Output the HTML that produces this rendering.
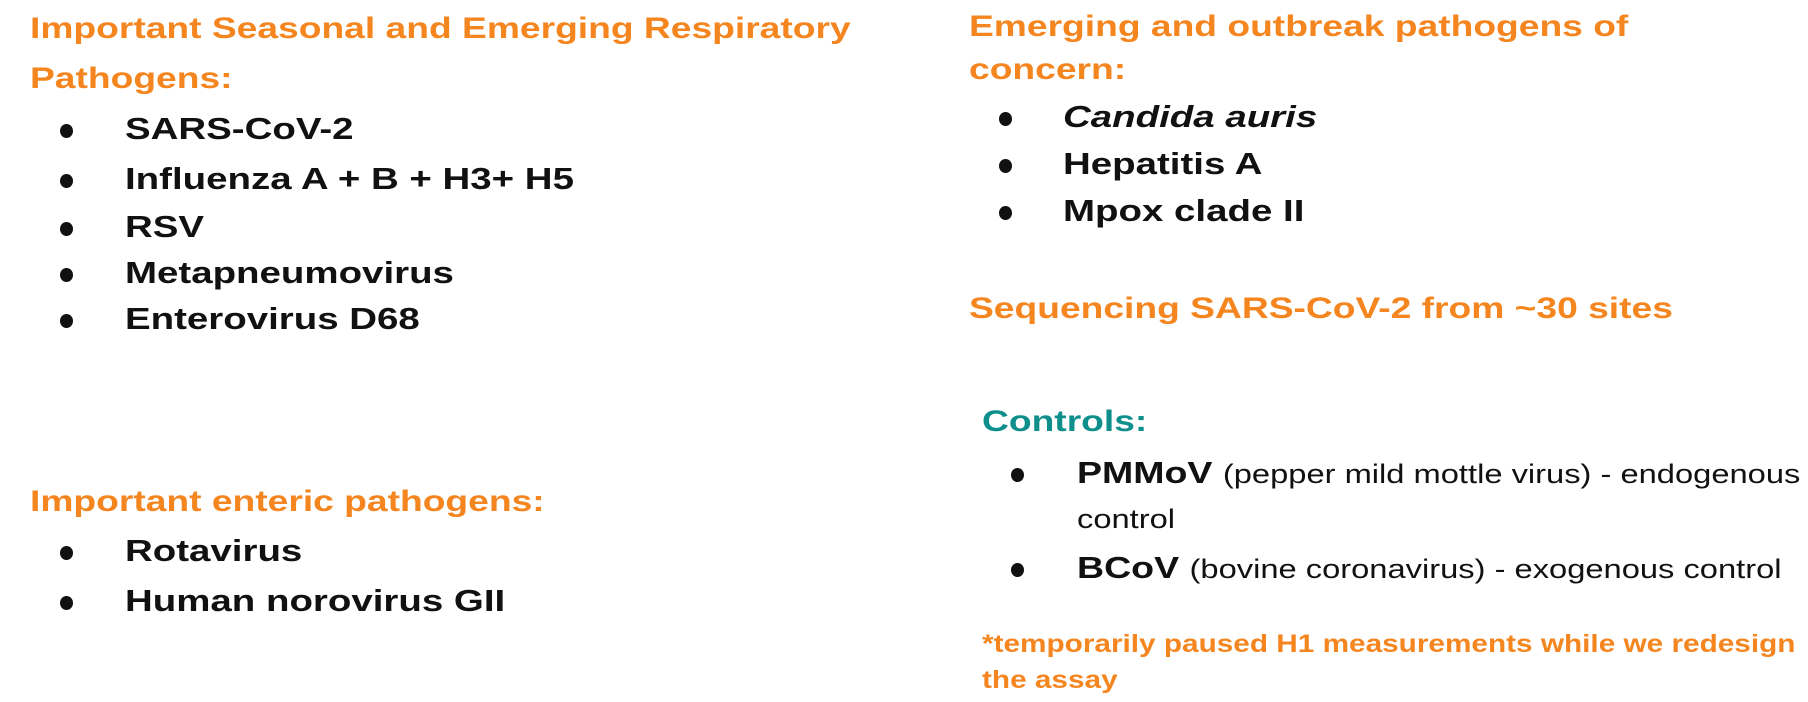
<!DOCTYPE html>
<html><head><meta charset="utf-8"><style>
body{margin:0;width:1808px;height:702px;background:#fff;position:relative;overflow:hidden;font-family:"Liberation Sans",sans-serif;}
.t{position:absolute;white-space:nowrap;line-height:40px;height:40px;transform:translateY(-20px) scaleX(1.24);transform-origin:left center;}
.o{color:#f5851f;font-weight:bold;font-size:30px;}
.b{color:#111;font-weight:bold;font-size:31px;}
.d{position:absolute;width:13px;height:14px;border-radius:50%;background:#111;transform:translate(-6px,-5px);}
.c{color:#0e8f8c;font-weight:bold;font-size:30px;}
.n{font-weight:normal;font-size:27px;}
.f{color:#f5851f;font-weight:bold;font-size:25px;transform:translateY(-20px) scaleX(1.19);}
.r{transform:translateY(-20px) scaleX(1.21);}
</style></head><body>
<div class="t o" style="left:30px;top:29px">Important Seasonal and Emerging Respiratory</div>
<div class="t o" style="left:30px;top:79px">Pathogens:</div>
<div class="d" style="left:66px;top:129px"></div><div class="t b" style="left:125px;top:129px">SARS-CoV-2</div>
<div class="d" style="left:66px;top:179px"></div><div class="t b" style="left:125px;top:179px">Influenza A + B + H3+ H5</div>
<div class="d" style="left:66px;top:227px"></div><div class="t b" style="left:125px;top:227px">RSV</div>
<div class="d" style="left:66px;top:273px"></div><div class="t b" style="left:125px;top:273px">Metapneumovirus</div>
<div class="d" style="left:66px;top:319px"></div><div class="t b" style="left:125px;top:319px">Enterovirus D68</div>
<div class="t o" style="left:30px;top:502px">Important enteric pathogens:</div>
<div class="d" style="left:66px;top:551px"></div><div class="t b" style="left:125px;top:551px">Rotavirus</div>
<div class="d" style="left:66px;top:601px"></div><div class="t b" style="left:125px;top:601px">Human norovirus GII</div>

<div class="t o" style="left:969px;top:27px">Emerging and outbreak pathogens of</div>
<div class="t o" style="left:969px;top:70px">concern:</div>
<div class="d" style="left:1005px;top:117px"></div><div class="t b" style="left:1063px;top:117px;font-style:italic">Candida auris</div>
<div class="d" style="left:1005px;top:164px"></div><div class="t b" style="left:1063px;top:164px">Hepatitis A</div>
<div class="d" style="left:1005px;top:211px"></div><div class="t b" style="left:1063px;top:211px">Mpox clade II</div>
<div class="t o" style="left:969px;top:309px">Sequencing SARS-CoV-2 from ~30 sites</div>
<div class="t c" style="left:982px;top:422px">Controls:</div>
<div class="d" style="left:1017px;top:473px"></div><div class="t b r" style="left:1077px;top:473px">PMMoV <span class="n">(pepper mild mottle virus) - endogenous</span></div>
<div class="t b r" style="left:1077px;top:518px"><span class="n">control</span></div>
<div class="d" style="left:1017px;top:568px"></div><div class="t b r" style="left:1077px;top:568px">BCoV <span class="n">(bovine coronavirus) - exogenous control</span></div>
<div class="t f" style="left:982px;top:644px">*temporarily paused H1 measurements while we redesign</div>
<div class="t f" style="left:982px;top:680px">the assay</div>
</body></html>
